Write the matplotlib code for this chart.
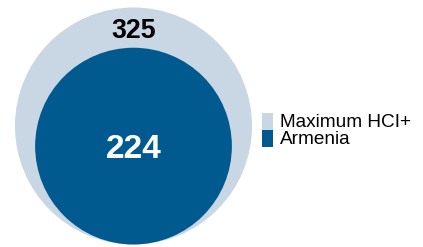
import numpy as np
import matplotlib
matplotlib.use("Agg")
import matplotlib.pyplot as plt
from matplotlib.patches import Circle, Rectangle

## data
categories = ["Maximum HCI+", "Armenia"]
values = [325, 224]
colors = ["#c9d6e3", "#005a8f"]
label_colors = ["#000000", "#ffffff"]

plt.rcParams['font.family'] = ['Liberation Sans', 'DejaVu Sans']

W, H = 423, 247
fig = plt.figure(figsize=(W / 100, H / 100), dpi=100)
ax = fig.add_axes([0, 0, 1, 1])
ax.set_xlim(0, W)
ax.set_ylim(H, 0)
ax.set_aspect('equal')
ax.axis('off')

## circles share a bottom point; area proportional to value
cx, bottom, r_max = 133.5, 244.5, 118.5
radii = [r_max * np.sqrt(v / max(values)) for v in values]
for v, r, c in zip(values, radii, colors):
    ax.add_patch(Circle((cx, bottom - r), r, facecolor=c, edgecolor='none'))

## value labels
ax.text(cx + 0.5, 38.3, str(values[0]), ha='center', va='baseline',
        fontsize=19.3, fontweight='bold', color=label_colors[0])
ax.text(cx + 0.5, 157.7, str(values[1]), ha='center', va='baseline',
        fontsize=24, fontweight='bold', color=label_colors[1])

## legend
for i, (cat, c) in enumerate(zip(categories, colors)):
    y0 = 113.3 + i * 16.7
    ax.add_patch(Rectangle((262.3, y0), 11, 16.7, facecolor=c, edgecolor='none'))
    ax.text(280, y0 + 13.5, cat, ha='left', va='baseline', fontsize=13.7,
            color='#000000')

plt.savefig("out.png", dpi=100)
